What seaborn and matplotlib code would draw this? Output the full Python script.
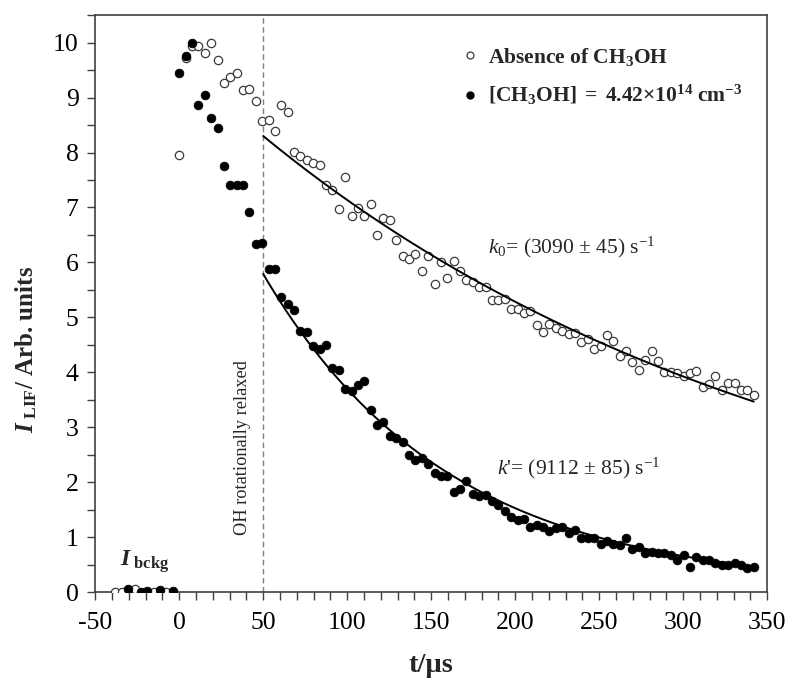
import numpy as np
import pandas as pd
import matplotlib
matplotlib.use("Agg")
import matplotlib.pyplot as plt
import seaborn as sns
from matplotlib.ticker import MultipleLocator
from matplotlib.lines import Line2D

# ---------------- data ----------------
time_us = [0.0, 3.8, 7.6, 11.4, 15.2, 19.0, 22.8, 26.6, 30.4, 34.2, 38.0, 41.8, 45.6, 49.4,
           53.2, 57.0, 60.8, 64.6, 68.4, 72.2, 76.0, 79.8, 83.6, 87.4, 91.2, 95.0, 98.8, 102.6,
           106.4, 110.2, 114.0, 117.8, 121.6, 125.4, 129.2, 133.0, 136.8, 140.6, 144.4, 148.2,
           152.0, 155.8, 159.6, 163.4, 167.2, 171.0, 174.8, 178.6, 182.4, 186.2, 190.0, 193.8,
           197.6, 201.4, 205.2, 209.0, 212.8, 216.6, 220.4, 224.2, 228.0, 231.8, 235.6, 239.4,
           243.2, 247.0, 250.8, 254.6, 258.4, 262.2, 266.0, 269.8, 273.6, 277.4, 281.2, 285.0,
           288.8, 292.6, 296.4, 300.2, 304.0, 307.8, 311.6, 315.4, 319.2, 323.0, 326.8, 330.6,
           334.4, 338.2, 342.0]

absence = [7.96, 9.72, 9.93, 9.93, 9.81, 10.00, 9.69, 9.26, 9.38, 9.45, 9.13, 9.15, 8.94, 8.58,
           8.59, 8.40, 8.86, 8.73, 8.01, 7.94, 7.87, 7.81, 7.78, 7.40, 7.31, 6.97, 7.56, 6.85,
           6.99, 6.85, 7.06, 6.50, 6.80, 6.77, 6.40, 6.12, 6.06, 6.15, 5.85, 6.12, 5.61, 6.01,
           5.72, 6.03, 5.84, 5.68, 5.65, 5.56, 5.56, 5.32, 5.31, 5.33, 5.15, 5.15, 5.08, 5.11,
           4.86, 4.73, 4.88, 4.80, 4.76, 4.70, 4.72, 4.56, 4.61, 4.42, 4.48, 4.68, 4.57, 4.29,
           4.39, 4.18, 4.04, 4.22, 4.38, 4.21, 4.00, 4.00, 3.98, 3.94, 3.98, 4.03, 3.74, 3.79,
           3.93, 3.67, 3.81, 3.81, 3.67, 3.67, 3.58]

methanol = [9.45, 9.75, 9.99, 8.87, 9.04, 8.63, 8.44, 7.75, 7.40, 7.40, 7.40, 6.91, 6.34, 6.36,
            5.88, 5.88, 5.37, 5.25, 5.14, 4.75, 4.73, 4.48, 4.43, 4.49, 4.08, 4.04, 3.70, 3.66,
            3.77, 3.85, 3.32, 3.04, 3.10, 2.84, 2.80, 2.73, 2.50, 2.41, 2.45, 2.33, 2.16, 2.12,
            2.12, 1.82, 1.87, 2.02, 1.79, 1.75, 1.76, 1.66, 1.58, 1.48, 1.36, 1.32, 1.33, 1.19,
            1.22, 1.19, 1.11, 1.17, 1.18, 1.08, 1.13, 0.98, 0.98, 0.99, 0.88, 0.93, 0.88, 0.86,
            0.99, 0.79, 0.82, 0.71, 0.73, 0.72, 0.71, 0.67, 0.59, 0.67, 0.45, 0.64, 0.59, 0.58,
            0.54, 0.50, 0.50, 0.53, 0.50, 0.44, 0.46]

bkg_time_absence = [-38.0, -34.2, -26.6, -15.2, -7.6]
bkg_absence = [0.01, 0.00, 0.05, 0.01, 0.01]
bkg_time_methanol = [-30.4, -22.8, -19.0, -11.4, -3.8]
bkg_methanol = [0.05, 0.01, 0.02, 0.04, 0.02]

# single-exponential fits: I = A*exp(-k*(t - t0)) + c, drawn from t0 = 50 us
fit_t0 = 50.0
fit_tend = 342.0
k0_rate, k0_amp, k0_off = 3090.0, 8.13, 0.17
kp_rate, kp_amp, kp_off = 9112.0, 5.72, 0.07

# ---------------- style ----------------
sns.set_theme(style="white")
plt.rcParams["font.family"] = ["Liberation Serif", "DejaVu Serif"]
plt.rcParams["axes.unicode_minus"] = False
plt.rcParams["mathtext.fontset"] = "custom"
plt.rcParams["mathtext.rm"] = "Liberation Serif"
plt.rcParams["mathtext.it"] = "Liberation Serif:italic"
plt.rcParams["mathtext.bf"] = "Liberation Serif:bold"
plt.rcParams["mathtext.bfit"] = "Liberation Serif:bold:italic"

fig = plt.figure(figsize=(8.0, 6.87), dpi=100)
ax = fig.add_axes([0.119, 0.138, 0.840, 0.840])

df_abs = pd.DataFrame({"t": bkg_time_absence + time_us, "I": bkg_absence + absence})
df_met = pd.DataFrame({"t": bkg_time_methanol + time_us, "I": bkg_methanol + methanol})

edge = "#3a3a3a"
sns.scatterplot(data=df_abs, x="t", y="I", ax=ax, marker="o", s=36,
                facecolor="white", edgecolor=edge, linewidth=0.9, zorder=3)
sns.scatterplot(data=df_met, x="t", y="I", ax=ax, marker="o", s=40,
                color="black", edgecolor="black", linewidth=0.5, zorder=4)

tfit = np.linspace(fit_t0, fit_tend, 200)
df_fit0 = pd.DataFrame({"t": tfit, "I": k0_amp * np.exp(-k0_rate * (tfit - fit_t0) * 1e-6) + k0_off})
df_fitp = pd.DataFrame({"t": tfit, "I": kp_amp * np.exp(-kp_rate * (tfit - fit_t0) * 1e-6) + kp_off})
sns.lineplot(data=df_fit0, x="t", y="I", ax=ax, color="black", linewidth=1.4, zorder=5)
sns.lineplot(data=df_fitp, x="t", y="I", ax=ax, color="black", linewidth=1.4, zorder=5)

ax.axvline(fit_t0, color="#808080", linestyle=(0, (4, 2.5)), linewidth=1.0, zorder=1)

ax.set_xlim(-50, 350)
ax.set_ylim(0, 10.5)
ax.xaxis.set_major_locator(MultipleLocator(50))
ax.xaxis.set_minor_locator(MultipleLocator(10))
ax.yaxis.set_major_locator(MultipleLocator(1))
ax.yaxis.set_minor_locator(MultipleLocator(0.5))
ax.tick_params(axis="both", which="both", direction="out", length=6, width=1.0,
               color="#404040", bottom=True, left=True, top=False, right=False)
ax.tick_params(axis="both", which="major", labelsize=18.5, labelcolor="black")
ax.tick_params(axis="x", which="major", pad=8)
ax.tick_params(axis="y", which="major", pad=6)
for sp in ax.spines.values():
    sp.set_color("#404040")
    sp.set_linewidth(1.2)

ax.set_xlabel("t/µs", fontsize=20.5, fontweight="bold")
ax.xaxis.set_label_coords(0.5, -0.105)
ax.set_ylabel(r"$\mathbfit{I}_{\mathbf{\ LIF}}$/ Arb. units", fontsize=18,
              fontweight="bold")
ax.yaxis.set_label_coords(-0.083, 0.42)

# legend
h_open = Line2D([], [], marker="o", linestyle="none", markersize=5,
                markerfacecolor="white", markeredgecolor=edge, markeredgewidth=0.9)
h_fill = Line2D([], [], marker="o", linestyle="none", markersize=5,
                markerfacecolor="black", markeredgecolor="black")
leg = ax.legend([h_open, h_fill],
                [r"$\mathbf{Absence\ of\ CH_3OH}$",
                 r"$\mathbf{[CH_3OH]\ =\ 4.42{\times}10^{14}\ cm^{-3}}$"],
                loc="upper left", bbox_to_anchor=(0.52, 0.98), frameon=False,
                fontsize=15.5, handlelength=0.6, handletextpad=0.5, labelspacing=0.7)

# annotations
ax.text(184, 6.28, r"$\mathit{k}_0$= (3090 ± 45) s$^{-1}$", fontsize=15.5, ha="left", va="center")
ax.text(189, 2.26, r"$\mathit{k}$'= (9112 ± 85) s$^{-1}$", fontsize=15.5, ha="left", va="center")
ax.text(37.5, 2.64, "OH rotationally relaxed", rotation=90, fontsize=13.2,
        ha="center", va="center")
ax.text(-35, 0.55, r"$\mathbfit{I}_{\ \mathbf{bckg}}$", fontsize=17, ha="left", va="center")

fig.savefig("out.png", dpi=100)
